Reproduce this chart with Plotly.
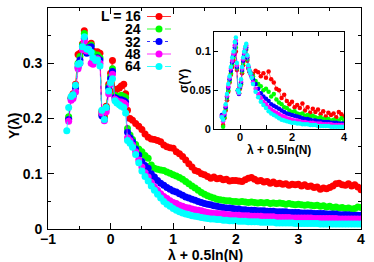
import plotly.graph_objects as go

# ---------------- data: main panel Y(lambda) ----------------
x_main = [-0.70, -0.67, -0.63, -0.60, -0.56, -0.52, -0.49, -0.45, -0.42, -0.38, -0.35, -0.31, -0.28,
          -0.24, -0.21, -0.17, -0.14, -0.10, -0.07, -0.03, 0.00, 0.03, 0.07, 0.10, 0.14, 0.17, 0.21,
          0.24, 0.27, 0.31, 0.35, 0.40, 0.45,
          0.50, 0.55, 0.60, 0.65, 0.70, 0.75, 0.80, 0.85, 0.90, 0.95,
          1.00, 1.05, 1.10, 1.15, 1.20, 1.25, 1.30, 1.35, 1.40, 1.45,
          1.50, 1.55, 1.60, 1.65, 1.70, 1.75, 1.80, 1.85, 1.90, 1.95,
          2.00, 2.05, 2.10, 2.15, 2.20, 2.25, 2.30, 2.35, 2.40, 2.45,
          2.50, 2.55, 2.60, 2.65, 2.70, 2.75, 2.80, 2.85, 2.90, 2.95,
          3.00, 3.05, 3.10, 3.15, 3.20, 3.25, 3.30, 3.35, 3.40, 3.45,
          3.50, 3.55, 3.60, 3.65, 3.70, 3.75, 3.80, 3.85, 3.90, 3.95, 4.00]

y16 = [None, 0.200, 0.238, 0.245, 0.262, 0.316, 0.318, 0.335, 0.359, 0.328, 0.332, 0.336, 0.322,
       0.320, 0.321, 0.318, 0.213, 0.204, 0.222, 0.262, 0.282, 0.305, 0.250, 0.253, 0.255, 0.259, 0.262,
       0.245, 0.215, 0.200, 0.197, 0.191, 0.186,
       0.180, 0.172, 0.166, 0.163, 0.162, 0.160, 0.158, 0.152, 0.149, 0.147,
       0.146, 0.140, 0.136, 0.131, 0.125, 0.118, 0.112, 0.106, 0.104, 0.100,
       0.098, 0.095, 0.092, 0.094, 0.091, 0.092, 0.089, 0.090, 0.087, 0.088,
       0.088, 0.087, 0.086, 0.089, 0.092, 0.093, 0.090, 0.087, 0.088, 0.085,
       0.086, 0.083, 0.085, 0.082, 0.083, 0.081, 0.082, 0.079, 0.081, 0.080,
       0.081, 0.078, 0.080, 0.077, 0.078, 0.075, 0.076, 0.072, 0.074, 0.073,
       0.075, 0.078, 0.082, 0.083, 0.080, 0.079, 0.082, 0.078, 0.080, 0.076, 0.071]

y24 = [None, 0.203, 0.236, 0.242, 0.258, 0.300, 0.312, 0.333, 0.354, 0.325, 0.330, 0.333, 0.318,
       0.312, 0.315, 0.310, 0.208, 0.200, 0.220, 0.258, 0.276, 0.290, 0.242, 0.240, 0.238, 0.242, 0.240,
       0.238, 0.182, 0.170, 0.162, 0.153, 0.145,
       0.140, 0.133, 0.128, 0.116, 0.110, 0.108, 0.107, 0.106, 0.103, 0.101,
       0.098, 0.096, 0.093, 0.090, 0.086, 0.082, 0.078, 0.074, 0.070, 0.066,
       0.063, 0.060, 0.058, 0.056, 0.054, 0.053, 0.052, 0.051, 0.051, 0.050,
       0.050, 0.049, 0.050, 0.049, 0.048, 0.049, 0.048, 0.047, 0.048, 0.047,
       0.048, 0.046, 0.047, 0.046, 0.047, 0.046, 0.045, 0.046, 0.045, 0.044,
       0.045, 0.044, 0.043, 0.044, 0.043, 0.042, 0.043, 0.041, 0.042, 0.040,
       0.041, 0.039, 0.040, 0.038, 0.039, 0.037, 0.038, 0.036, 0.037, 0.040, 0.039]

y32 = [None, 0.198, 0.236, 0.240, 0.255, 0.293, 0.306, 0.330, 0.345, 0.318, 0.328, 0.330, 0.305,
       0.305, 0.310, 0.306, 0.205, 0.198, 0.218, 0.255, 0.272, 0.285, 0.238, 0.236, 0.233, 0.234, 0.232,
       0.230, 0.175, 0.165, 0.158, 0.145, 0.134,
       0.122, 0.115, 0.110, 0.100, 0.094, 0.088, 0.083, 0.079, 0.075, 0.072,
       0.069, 0.067, 0.064, 0.061, 0.058, 0.056, 0.054, 0.052, 0.050, 0.048,
       0.046, 0.045, 0.044, 0.042, 0.041, 0.040, 0.039, 0.038, 0.038, 0.037,
       0.036, 0.036, 0.035, 0.035, 0.034, 0.034, 0.034, 0.033, 0.033, 0.033,
       0.032, 0.032, 0.032, 0.031, 0.031, 0.031, 0.031, 0.030, 0.030, 0.030,
       0.030, 0.029, 0.029, 0.029, 0.029, 0.028, 0.028, 0.028, 0.028, 0.027,
       0.027, 0.027, 0.027, 0.026, 0.026, 0.026, 0.026, 0.025, 0.025, 0.025, 0.025]

y48 = [None, 0.195, 0.233, 0.236, 0.248, 0.290, 0.300, 0.325, 0.340, 0.322, 0.326, 0.300, 0.298,
       0.305, 0.308, 0.300, 0.210, 0.196, 0.212, 0.245, 0.262, 0.280, 0.235, 0.232, 0.230, 0.230, 0.228,
       0.225, 0.165, 0.160, 0.152, 0.140, 0.125,
       0.112, 0.102, 0.094, 0.084, 0.076, 0.070, 0.064, 0.059, 0.055, 0.051,
       0.048, 0.046, 0.043, 0.041, 0.039, 0.038, 0.036, 0.035, 0.034, 0.033,
       0.031, 0.030, 0.029, 0.028, 0.028, 0.027, 0.027, 0.026, 0.026, 0.025,
       0.025, 0.025, 0.024, 0.024, 0.024, 0.023, 0.023, 0.023, 0.023, 0.022,
       0.022, 0.022, 0.022, 0.021, 0.021, 0.021, 0.021, 0.021, 0.020, 0.020,
       0.020, 0.020, 0.020, 0.020, 0.020, 0.019, 0.019, 0.019, 0.019, 0.019,
       0.019, 0.019, 0.019, 0.018, 0.018, 0.018, 0.018, 0.018, 0.018, 0.018, 0.018]

y64 = [0.178, 0.220, 0.240, 0.243, 0.260, 0.298, 0.300, 0.330, 0.348, 0.326, 0.325, 0.320, 0.310,
       0.305, 0.306, 0.295, 0.215, 0.198, 0.220, 0.250, 0.265, 0.272, 0.232, 0.228, 0.225, 0.222, 0.220,
       0.210, 0.160, 0.155, 0.148, 0.135, 0.120,
       0.105, 0.095, 0.087, 0.078, 0.070, 0.063, 0.056, 0.050, 0.045, 0.041,
       0.037, 0.034, 0.031, 0.029, 0.027, 0.026, 0.024, 0.023, 0.022, 0.021,
       0.020, 0.019, 0.018, 0.018, 0.017, 0.017, 0.016, 0.016, 0.015, 0.015,
       0.015, 0.014, 0.014, 0.014, 0.013, 0.013, 0.013, 0.013, 0.012, 0.012,
       0.012, 0.012, 0.012, 0.011, 0.011, 0.011, 0.011, 0.011, 0.011, 0.010,
       0.010, 0.010, 0.010, 0.010, 0.010, 0.010, 0.010, 0.009, 0.009, 0.009,
       0.009, 0.009, 0.009, 0.009, 0.009, 0.009, 0.009, 0.009, 0.009, 0.009, 0.009]

# ---------------- data: inset sigma(Y) ----------------
x_in = [-0.70, -0.65, -0.60, -0.55, -0.50, -0.45, -0.40, -0.35, -0.30, -0.25, -0.20, -0.16, -0.12,
        -0.08, -0.04, 0.00, 0.04, 0.08, 0.12, 0.16, 0.20, 0.24, 0.28, 0.32, 0.36, 0.40, 0.45,
        0.5, 0.6, 0.7, 0.8, 0.9, 1.0, 1.1, 1.2, 1.3, 1.4, 1.5, 1.6, 1.7, 1.8, 1.9, 2.0, 2.1, 2.2,
        2.3, 2.4, 2.5, 2.6, 2.7, 2.8, 2.9, 3.0, 3.1, 3.2, 3.3, 3.4, 3.5, 3.6, 3.7, 3.8, 3.9, 4.0]

s16 = [None, 0.005, 0.014, 0.024, 0.037, 0.048, 0.060, 0.070, 0.080, 0.088, 0.097, 0.100, 0.076,
       0.049, 0.046, 0.052, 0.057, 0.072, 0.082, 0.090, 0.094, 0.096, 0.088, 0.078, 0.074, 0.073, 0.070,
       0.071, 0.075, 0.073, 0.068, 0.072, 0.066, 0.074, 0.064, 0.060, 0.052, 0.050, 0.040, 0.044, 0.036,
       0.032, 0.035, 0.028, 0.031, 0.027, 0.033, 0.024, 0.028, 0.021, 0.026, 0.022, 0.025, 0.019, 0.023,
       0.016, 0.021, 0.018, 0.020, 0.015, 0.022, 0.019, 0.016]
s24 = [None, 0.003, 0.015, 0.026, 0.040, 0.050, 0.062, 0.072, 0.083, 0.092, 0.100, 0.105, 0.078,
       0.050, 0.046, 0.053, 0.058, 0.074, 0.085, 0.093, 0.098, 0.102, 0.090, 0.079, 0.074, 0.072, 0.070,
       0.068, 0.062, 0.058, 0.055, 0.050, 0.052, 0.048, 0.042, 0.045, 0.038, 0.034, 0.032, 0.028, 0.027,
       0.024, 0.022, 0.023, 0.020, 0.019, 0.020, 0.017, 0.018, 0.016, 0.017, 0.015, 0.014, 0.015, 0.013,
       0.012, 0.013, 0.011, 0.012, 0.010, 0.011, 0.014, 0.010]
s32 = [0.018, 0.012, 0.018, 0.028, 0.042, 0.053, 0.064, 0.075, 0.086, 0.095, 0.105, 0.110, 0.080,
       0.050, 0.045, 0.054, 0.060, 0.076, 0.088, 0.096, 0.101, 0.105, 0.092, 0.080, 0.075, 0.072, 0.068,
       0.064, 0.058, 0.052, 0.046, 0.042, 0.039, 0.036, 0.032, 0.030, 0.028, 0.026, 0.024, 0.022, 0.020,
       0.019, 0.018, 0.017, 0.016, 0.015, 0.014, 0.013, 0.013, 0.012, 0.011, 0.011, 0.010, 0.010, 0.009,
       0.009, 0.009, 0.008, 0.008, 0.008, 0.007, 0.007, 0.007]
s48 = [0.016, 0.010, 0.020, 0.030, 0.043, 0.055, 0.066, 0.078, 0.088, 0.097, 0.108, 0.114, 0.082,
       0.048, 0.046, 0.055, 0.062, 0.078, 0.090, 0.098, 0.104, 0.108, 0.094, 0.080, 0.075, 0.071, 0.067,
       0.060, 0.052, 0.045, 0.040, 0.035, 0.032, 0.028, 0.025, 0.023, 0.021, 0.019, 0.017, 0.016, 0.014,
       0.013, 0.012, 0.011, 0.011, 0.010, 0.009, 0.009, 0.008, 0.008, 0.008, 0.007, 0.007, 0.007, 0.006,
       0.006, 0.006, 0.006, 0.005, 0.005, 0.005, 0.005, 0.005]
s64 = [0.015, 0.012, 0.022, 0.032, 0.045, 0.058, 0.068, 0.080, 0.092, 0.100, 0.112, 0.118, 0.085,
       0.050, 0.047, 0.056, 0.064, 0.080, 0.092, 0.100, 0.106, 0.110, 0.095, 0.082, 0.076, 0.072, 0.066,
       0.058, 0.048, 0.041, 0.035, 0.031, 0.027, 0.023, 0.020, 0.018, 0.016, 0.014, 0.012, 0.011, 0.010,
       0.009, 0.008, 0.008, 0.007, 0.007, 0.006, 0.006, 0.006, 0.005, 0.005, 0.005, 0.004, 0.004, 0.004,
       0.004, 0.004, 0.003, 0.003, 0.003, 0.003, 0.003, 0.003]

labels = ["L = 16", "24", "32", "48", "64"]
colors = ["#ff0000", "#00ff00", "#0000ff", "#ff00ff", "#00ffff"]
dashes = ["solid", "dash", "dot", "solid", "dash"]

main_series = [y16, y24, y32, y48, y64]
inset_series = [s16, s24, s32, s48, s64]

FONT = "Liberation Sans"

fig = go.Figure()
for ys, c, d in zip(main_series, colors, dashes):
    fig.add_trace(go.Scatter(x=x_main, y=ys, mode="lines+markers",
                             line=dict(color=c, width=0.8, dash=d),
                             marker=dict(color=c, size=7), showlegend=False,
                             xaxis="x", yaxis="y"))
for ys, c, d in zip(inset_series, colors, dashes):
    fig.add_trace(go.Scatter(x=x_in, y=ys, mode="lines+markers",
                             line=dict(color=c, width=0.6, dash=d),
                             marker=dict(color=c, size=4.5), showlegend=False,
                             xaxis="x2", yaxis="y2"))

W, H = 374, 262
L_, R_, T_, B_ = 48, 13, 8, 33
PW, PH = W - L_ - R_, H - T_ - B_


def px(xp):
    return (xp - L_) / PW


def py(yp):
    return (H - B_ - yp) / PH


axis_common = dict(showline=True, linecolor="black", linewidth=1, mirror="allticks",
                   ticks="inside", tickcolor="black", showgrid=False, zeroline=False,
                   automargin=False)

fig.update_layout(
    width=W, height=H, autosize=False,
    margin=dict(l=L_, r=R_, t=T_, b=B_, pad=0, autoexpand=False),
    paper_bgcolor="white", plot_bgcolor="white",
    xaxis=dict(range=[-1, 4], dtick=1, ticklen=6, ticklabelstandoff=-3,
               minor=dict(dtick=0.5, ticklen=3, ticks="inside", tickcolor="black"),
               tickfont=dict(family=FONT, size=14, color="black", weight="bold"),
               **axis_common),
    yaxis=dict(range=[0, 0.4], dtick=0.1, ticklen=6, ticklabelstandoff=2,
               minor=dict(dtick=0.05, ticklen=3, ticks="inside", tickcolor="black"),
               tickfont=dict(family=FONT, size=14, color="black", weight="bold"),
               **axis_common),
    xaxis2=dict(domain=[px(214), px(344)], anchor="y2", range=[-1, 4],
                tickvals=[0, 2, 4], ticklen=4, ticklabelstandoff=-2,
                minor=dict(dtick=1, ticklen=4, ticks="inside", tickcolor="black"),
                tickfont=dict(family=FONT, size=11, color="black", weight="bold"),
                **axis_common),
    yaxis2=dict(domain=[py(129), py(32)], anchor="x2", range=[0, 0.125],
                tickvals=[0, 0.05, 0.1], ticktext=["0", "0.05", "0.1"], ticklen=4,
                tickfont=dict(family=FONT, size=11, color="black", weight="bold"),
                **axis_common),
)

ann = []
# axis titles
ann.append(dict(text="λ + 0.5ln(N)", x=px(205), y=py(255), xref="paper", yref="paper",
                xanchor="center", yanchor="middle",
                showarrow=False, font=dict(family=FONT, size=14, color="black", weight="bold")))
ann.append(dict(text="Y(λ)", x=px(14), y=py(126), xref="paper", yref="paper", textangle=-90,
                xanchor="center", yanchor="middle",
                showarrow=False, font=dict(family=FONT, size=14, color="black", weight="bold")))
ann.append(dict(text="λ + 0.5ln(N)", x=px(279), y=py(150), xref="paper", yref="paper",
                xanchor="center", yanchor="middle",
                showarrow=False, font=dict(family=FONT, size=12, color="black", weight="bold")))
ann.append(dict(text="σ(Y)", x=px(184), y=py(81), xref="paper", yref="paper", textangle=-90,
                xanchor="center", yanchor="middle",
                showarrow=False, font=dict(family=FONT, size=12, color="black", weight="bold")))

# manual key
rows = [16.5, 29, 41.5, 54, 66.5]
shapes = []
for lab, c, d, ry in zip(labels, colors, dashes, rows):
    ann.append(dict(text=lab, x=px(143), y=py(ry), xref="paper", yref="paper",
                    xanchor="right", yanchor="middle", showarrow=False,
                    font=dict(family=FONT, size=14, color="black", weight="bold")))
    shapes.append(dict(type="line", xref="paper", yref="paper",
                       x0=px(147), x1=px(171), y0=py(ry), y1=py(ry),
                       line=dict(color=c, width=0.8, dash=d)))
    shapes.append(dict(type="circle", xref="paper", yref="paper",
                       x0=px(159 - 3.5), x1=px(159 + 3.5), y0=py(ry + 3.5), y1=py(ry - 3.5),
                       fillcolor=c, line=dict(color=c, width=0)))

fig.update_layout(annotations=ann, shapes=shapes)
fig.write_html("out.html", config={"displayModeBar": False},
               post_script="document.body.style.margin='0';document.body.style.padding='0';")
